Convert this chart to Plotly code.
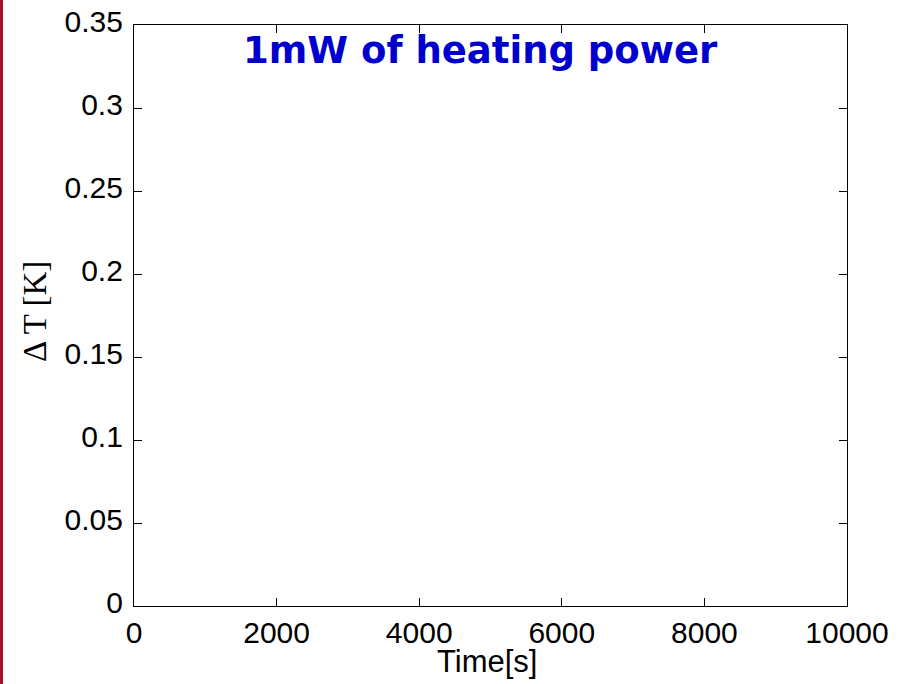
import plotly.graph_objects as go

# Axis ranges and tick values
x_ticks = [0, 2000, 4000, 6000, 8000, 10000]
x_tick_labels = ["0", "2000", "4000", "6000", "8000", "10000"]
y_ticks = [0, 0.05, 0.1, 0.15, 0.2, 0.25, 0.3, 0.35]
y_tick_labels = ["0", "0.05", "0.1", "0.15", "0.2", "0.25", "0.3", "0.35"]

# Measured temperature rise (no samples recorded yet)
time_s = []
delta_t = []

annotation_text = "1mW of heating power"
x_title = "Time[s]"
y_title = "\u0394 T [K]"

fig = go.Figure()
fig.add_trace(go.Scatter(x=time_s, y=delta_t, mode="lines",
                         line=dict(color="#0000cc", width=1.5),
                         showlegend=False))

axis_common = dict(
    showgrid=False, zeroline=False, showline=True, linecolor="black",
    linewidth=1.2, mirror="ticks", ticks="inside", ticklen=8,
    tickcolor="black", tickwidth=1, automargin=False,
    tickfont=dict(family="Liberation Sans, Arial", size=30, color="black"),
)

fig.update_xaxes(range=[0, 10000], tickvals=x_ticks, ticktext=x_tick_labels,
                 ticklabelstandoff=0, **axis_common)
fig.update_yaxes(range=[0, 0.35], tickvals=y_ticks, ticktext=y_tick_labels,
                 ticklabelstandoff=4, ticklabelshift=-4, **axis_common)

fig.update_layout(
    width=901, height=684,
    margin=dict(l=134, r=54, t=25, b=78),
    paper_bgcolor="white", plot_bgcolor="white",
    shapes=[dict(type="rect", xref="paper", yref="paper",
                 x0=-134 / 713, x1=-131 / 713, y0=-78 / 581, y1=1 + 78 / 581,
                 fillcolor="#a8102e", line=dict(width=0), layer="above")],
    annotations=[
        dict(text=annotation_text, xref="paper", yref="paper",
             x=(480 - 134) / 713, y=1 - (50 - 25) / 581,
             xanchor="center", yanchor="middle", showarrow=False,
             font=dict(family="DejaVu Sans", size=37, color="#0000cc",
                       weight="bold")),
        dict(text=x_title, xref="paper", yref="paper",
             x=(487 - 134) / 713, y=-(661 - 606) / 581,
             xanchor="center", yanchor="middle", showarrow=False,
             font=dict(family="Liberation Sans, Arial", size=31,
                       color="black")),
        dict(text=y_title, xref="paper", yref="paper",
             x=(35 - 134) / 713, y=1 - (312 - 25) / 581, textangle=-90,
             xanchor="center", yanchor="middle", showarrow=False,
             font=dict(family="Liberation Serif, Times New Roman", size=33,
                       color="black")),
    ],
)

fig.write_html("out.html")
